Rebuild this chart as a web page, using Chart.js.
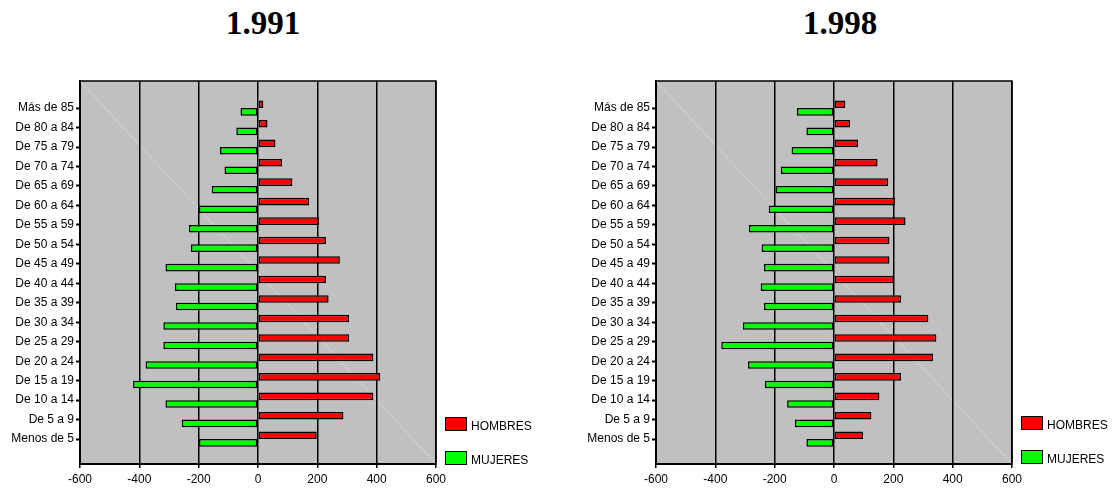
<!DOCTYPE html>
<html>
<head>
<meta charset="utf-8">
<script src="https://cdn.jsdelivr.net/npm/chart.js@4.4.1/dist/chart.umd.min.js"></script>
<style>
body { margin:0; background:#fff; width:1113px; height:489px; position:relative; overflow:hidden; font-family: Arial, 'Liberation Sans', sans-serif; }
canvas { position:absolute; top:0; }
.title { position:absolute; top:7px; width:200px; text-align:center; font-weight:bold; font-size:33px; line-height:33px; font-family:'Liberation Serif', 'Times New Roman', serif; color:#000; }
.legItem { position:absolute; width:110px; height:14px; }
.legBox { position:absolute; left:0; top:0; width:22px; height:14px; border:1px solid #000; box-sizing:border-box; }
.legText { position:absolute; left:26px; top:2px; font-size:12px; line-height:14px; white-space:nowrap; color:#000; }
</style>
</head>
<body>
<div class="title" style="left:163px">1.991</div>
<div class="title" style="left:740px">1.998</div>
<canvas id="chart91" width="526" height="489" style="left:0px"></canvas>
<canvas id="chart98" width="546" height="489" style="left:567px"></canvas>
<div id="legend91"></div>
<div id="legend98"></div>
<script>
// age groups from the bottom of the pyramid to the top
var ageGroups = ['Menos de 5', 'De 5 a 9', 'De 10 a 14', 'De 15 a 19', 'De 20 a 24', 'De 25 a 29',
	'De 30 a 34', 'De 35 a 39', 'De 40 a 44', 'De 45 a 49', 'De 50 a 54', 'De 55 a 59',
	'De 60 a 64', 'De 65 a 69', 'De 70 a 74', 'De 75 a 79', 'De 80 a 84', 'Más de 85'];

var hombres1991 = [198, 288, 389, 412, 389, 307, 307, 238, 229, 276, 229, 206, 172, 116, 81, 59, 32, 18];
var mujeres1991 = [-199, -257, -312, -421, -379, -319, -319, -277, -280, -312, -226, -233, -199, -156, -113, -128, -73, -59];

var hombres1998 = [98, 126, 153, 226, 334, 345, 318, 226, 202, 187, 187, 241, 206, 183, 147, 81, 54, 38];
var mujeres1998 = [-93, -132, -158, -233, -290, -380, -307, -236, -247, -236, -244, -287, -220, -197, -179, -143, -93, -125];

var xTicks = [-600, -400, -200, 0, 200, 400, 600];
var seriesNames = ['HOMBRES', 'MUJERES'];
var seriesColors = ['#ff0000', '#00ff00'];

var plotFrame = {
	id: 'plotFrame',
	beforeDraw: function(chart){
		let ctx = chart.ctx;
		let a = chart.chartArea;
		ctx.save();
		ctx.fillStyle = '#c0c0c0';
		ctx.fillRect(a.left, a.top, a.right - a.left, a.bottom - a.top);
		// faint diagonal seen in the original
		ctx.strokeStyle = '#d6d6d6';
		ctx.lineWidth = 1;
		ctx.beginPath();
		ctx.moveTo(a.left, a.top);
		ctx.lineTo(a.right, a.bottom);
		ctx.stroke();
		ctx.restore();
	},
	afterDraw: function(chart){
		let ctx = chart.ctx;
		let a = chart.chartArea;
		ctx.save();
		ctx.strokeStyle = '#000';
		ctx.lineWidth = 1.5;
		ctx.strokeRect(a.left, a.top, a.right - a.left, a.bottom - a.top);
		ctx.restore();
	}
};

function toPoints(values){
	return values.map(function(v, i){ return {x: v, y: i}; });
}

function pyramid(id, hombres, mujeres, yWidth, padRight){
	const tickFont = {family: "Arial, 'Liberation Sans', sans-serif", size: 12};
	const series = [hombres, mujeres];
	const config = {
		type: 'bar',
		data: {
			datasets: series.map(function(s, k){
				return {
					label: seriesNames[k],
					data: toPoints(s),
					backgroundColor: seriesColors[k],
					borderColor: '#000',
					borderWidth: 1.5,
					borderSkipped: false,
					categoryPercentage: 0.78,
					barPercentage: 1
				};
			})
		},
		options: {
			indexAxis: 'y',
			responsive: false,
			animation: false,
			layout: {
				padding: {top: 81, right: padRight, left: 0, bottom: 0}
			},
			plugins: {
				legend: {display: false},
				title: {display: false},
				tooltip: {enabled: false}
			},
			scales: {
				x: {
					type: 'linear',
					min: -600,
					max: 600,
					afterBuildTicks: function(axis){
						axis.ticks = xTicks.map(function(v){ return {value: v}; });
					},
					afterFit: function(axis){ axis.height = 25; },
					ticks: {color: '#000', font: tickFont, padding: 4, maxRotation: 0},
					grid: {color: '#000', lineWidth: 1.5, drawTicks: true, tickLength: 4},
					border: {display: true, color: '#000', width: 2}
				},
				y: {
					type: 'linear',
					offset: false,
					min: -1.28,
					max: 18.39,
					afterBuildTicks: function(axis){
						axis.ticks = ageGroups.map(function(l, i){ return {value: i}; });
					},
					afterFit: function(axis){ axis.width = yWidth; },
					ticks: {
						color: '#000',
						font: tickFont,
						padding: 2,
						autoSkip: false,
						callback: function(value){ return ageGroups[value]; }
					},
					grid: {offset: false, drawOnChartArea: false, color: '#000', drawTicks: true, tickLength: 4, tickWidth: 2},
					border: {display: true, color: '#000', width: 2}
				}
			}
		},
		plugins: [plotFrame]
	};
	return new Chart(document.getElementById(id), config);
}

function legend(id, left, top){
	let box = document.getElementById(id);
	for(let k in seriesNames){
		let item = document.createElement('div');
		item.className = 'legItem';
		item.style.left = left + 'px';
		item.style.top = (top + k * 34) + 'px';
		item.innerHTML = '<div class="legBox" style="background:' + seriesColors[k] + '"></div>' +
			'<div class="legText">' + seriesNames[k] + '</div>';
		box.appendChild(item);
	}
}

pyramid('chart91', hombres1991, mujeres1991, 80, 90);
pyramid('chart98', hombres1998, mujeres1998, 89, 101);
legend('legend91', 445, 417);
legend('legend98', 1021, 416);
</script>
</body>
</html>
